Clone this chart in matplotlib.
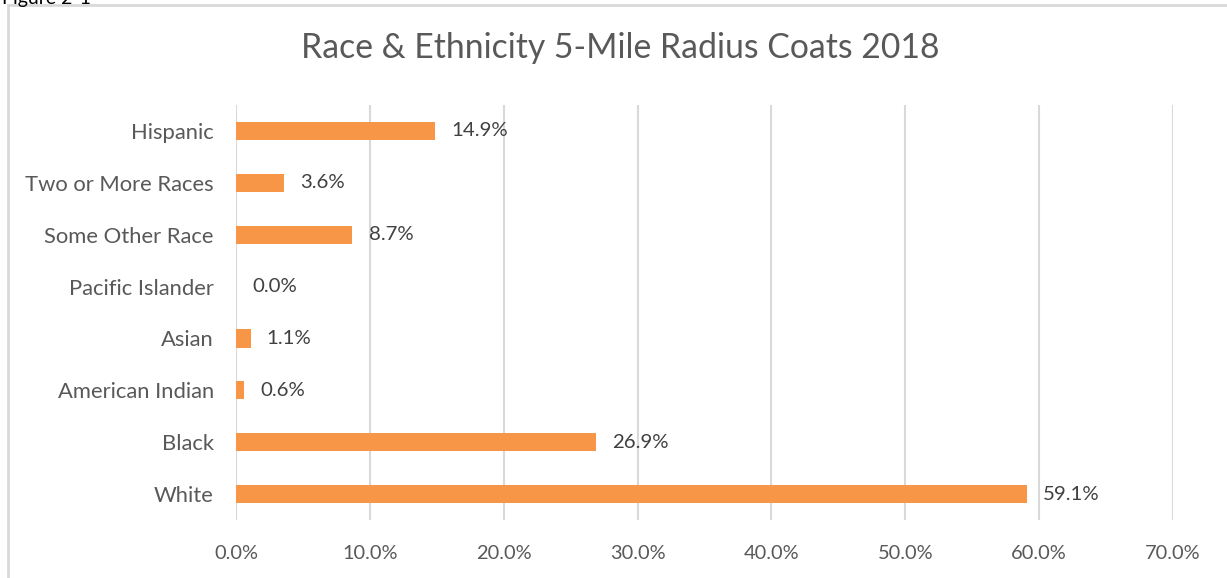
import matplotlib.pyplot as plt
from matplotlib.patches import Rectangle

categories = ["White", "Black", "American Indian", "Asian", "Pacific Islander",
              "Some Other Race", "Two or More Races", "Hispanic"]
values = [59.1, 26.9, 0.6, 1.1, 0.0, 8.7, 3.6, 14.9]
xticks = [0, 10, 20, 30, 40, 50, 60, 70]

plt.rcParams["font.family"] = ["Lato", "DejaVu Sans"]
text_color = "#595959"

fig = plt.figure(figsize=(12.27, 5.78), dpi=100)
ax = fig.add_axes([236 / 1227, 1 - 520 / 578, (1173 - 236) / 1227, 415 / 578])

y = range(len(categories))
ax.barh(y, values, height=0.35, color="#F79646", zorder=3)
for yi, v in zip(y, values):
    ax.text(v + 1.2, yi, f"{v:.1f}%", va="center", ha="left",
            fontsize=14.7, color="#404040")

ax.set_xlim(0, 70)
ax.set_ylim(-0.5, len(categories) - 0.5)
ax.set_xticks(xticks)
ax.set_xticklabels([f"{t:.1f}%" for t in xticks])
ax.set_yticks(list(y))
ax.set_yticklabels(categories)
ax.tick_params(axis="x", length=0, pad=18, labelsize=14.4, labelcolor=text_color)
ax.tick_params(axis="y", length=0, pad=16, labelsize=15.8, labelcolor=text_color)
ax.grid(axis="x", color="#D9D9D9", linewidth=1.5, zorder=0)
for s in ax.spines.values():
    s.set_visible(False)

fig.text(620 / 1227, 1 - 48 / 578, "Race & Ethnicity 5-Mile Radius Coats 2018",
         ha="center", va="center", fontsize=24.3, color=text_color)

# outer chart border and cut-off caption
fig.patches.append(Rectangle((8 / 1227, -0.1), 1.2, 1 - 5 / 578 + 0.1,
                             transform=fig.transFigure, fill=False,
                             edgecolor="#D9D9D9", linewidth=2))
fig.text(0.002, 1 - 4 / 578, "Figure 2-1", ha="left", va="baseline",
         fontsize=14, color="black")

fig.savefig("out.png", dpi=100)
